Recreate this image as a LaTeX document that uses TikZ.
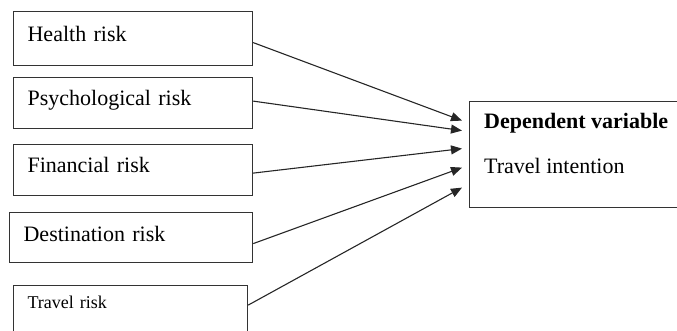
\documentclass[tikz,border=0pt]{standalone}
\usepackage{fontspec}
\setmainfont{Liberation Serif}
\usetikzlibrary{arrows.meta}
\begin{document}
\begin{tikzpicture}[x=1pt, y=-1pt, line join=miter, >={Triangle[length=11pt,width=9pt]}]
\tikzset{riskbox/.style={draw=black!80, line width=1.2pt, anchor=north west, inner xsep=14pt, inner ysep=0pt,
    text width=211pt, align=left, text height=15pt, text depth=10pt, font=\fontsize{22}{26}\selectfont},
  depbox/.style={draw=black!80, line width=1.2pt, anchor=north west, minimum width=225pt, minimum height=106pt},
  deptext/.style={anchor=base west, inner sep=0pt, font=\fontsize{22}{26}\selectfont},
  link/.style={->, line width=1.1pt, black!85}}
\useasboundingbox (0,0) rectangle (677,330);
\node[riskbox, minimum height=54pt] (health) at (13,11) {Health risk};
\node[riskbox, minimum height=51pt] (psych) at (13,77) {Psychological risk};
\node[riskbox, minimum height=51pt] (fin) at (13,144) {Financial risk};
\node[riskbox, minimum height=50pt, text width=215pt, text depth=7pt] (dest) at (9,212) {Destination risk};
\node[riskbox, minimum height=55pt, text width=206pt, text depth=24pt, font=\fontsize{18}{22}\selectfont] (trav) at (13,285) {Travel risk};
\node[depbox] (dep) at (469,101) {};
\node[deptext] (dephead) at ([xshift=15pt,yshift=-27pt]dep.north west) {\textbf{Dependent variable}};
\node[deptext] (depname) at ([xshift=15pt,yshift=-72pt]dep.north west) {Travel intention};
\foreach \src/\sy/\dy in {health/-4/34, psych/2/24, fin/-3/6, dest/-6/-13, trav/8/-33}
  \draw[link] ([yshift=\sy pt]\src.east) -- ([xshift=-7pt,yshift=\dy pt]dep.west);
\end{tikzpicture}
\end{document}
